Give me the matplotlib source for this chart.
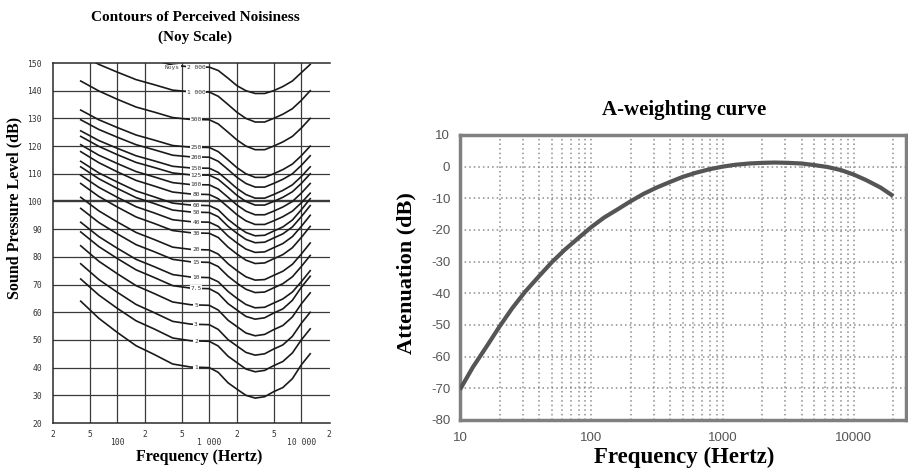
import matplotlib
matplotlib.use("Agg")
import matplotlib.pyplot as plt

# ---- left panel: noy contours ----
noy_freq = [40, 63, 100, 160, 250, 400, 630, 1000, 1250, 1600, 2000, 2500, 3150, 4000, 5000, 6300,
            8000, 10000, 12500]

noy_labels = ["2 000", "1 000", "500", "250", "200", "150", "125", "100", "80", "60", "50",
              "40", "30", "20", "15", "10", "7.5", "5", "3", "2", "1"]
noy_levels = [148.5, 139.5, 129.5, 119.5, 116, 112, 109.5, 106, 102.5, 98.5, 96,
              92.5, 88.5, 82.5, 78, 72.5, 68.5, 62.5, 55.5, 49.5, 40]

noy_2000 = [161.5, 157.1, 155.4, 152.8, 151.1, 149.2, 148.6, 148.5, 147.3, 144.5, 141.8, 140, 139, 139, 140, 141.5, 143.5, 146.5, 149.5]
noy_1000 = [153, 149.5, 146.7, 144, 142.2, 140.2, 139.6, 139.5, 138, 135, 132.2, 130, 128.7, 128.7, 130, 131.5, 133.5, 136.5, 140]
noy_500 = [143.5, 139.9, 136.9, 134.1, 132.3, 130.3, 129.6, 129.5, 128, 125, 122.2, 120, 118.7, 118.7, 120, 121.5, 123.5, 126.5, 130]
noy_250 = [133, 129.5, 126.7, 124, 122.2, 120.2, 119.6, 119.5, 118, 115, 112.2, 110, 108.7, 108.7, 110, 111.5, 113.5, 116.5, 120]
noy_200 = [129.5, 126, 123.2, 120.5, 118.7, 116.7, 116.1, 116, 114.5, 111.5, 108.7, 106.5, 105.2, 105.2, 106.5, 108, 110, 113, 116.5]
noy_150 = [125.5, 122, 119.2, 116.5, 114.7, 112.7, 112.1, 112, 110.5, 107.5, 104.7, 102.5, 101.2, 101.2, 102.5, 104, 106, 109, 112.5]
noy_125 = [123.5, 119.9, 116.9, 114.1, 112.3, 110.3, 109.6, 109.5, 108, 105, 102.2, 100, 98.7, 98.7, 100, 101.5, 103.5, 106.5, 110]
noy_100 = [120.5, 116.7, 113.7, 110.8, 108.9, 106.8, 106.1, 106, 104.5, 101.5, 98.7, 96.5, 95.2, 95.2, 96.5, 98, 100, 103, 106.5]
noy_80 = [118, 114, 110.7, 107.6, 105.6, 103.4, 102.7, 102.5, 101, 98, 95.2, 93, 91.7, 91.7, 93, 94.5, 96.5, 99.5, 103]
noy_60 = [114.5, 110.3, 107, 103.8, 101.7, 99.4, 98.7, 98.5, 97, 93.5, 91, 88.8, 87.6, 87.8, 89.3, 90.8, 93.3, 97, 101]
noy_50 = [112.5, 108.2, 104.7, 101.4, 99.3, 96.9, 96.2, 96, 94.5, 91, 88.5, 86.3, 85.1, 85.3, 86.8, 88.3, 90.8, 94.5, 98.5]
noy_40 = [109.5, 105.1, 101.5, 98.1, 95.9, 93.4, 92.7, 92.5, 91, 87.5, 85, 82.8, 81.6, 81.8, 83.3, 84.8, 87.3, 91, 95]
noy_30 = [106.5, 101.8, 98, 94.4, 92.1, 89.5, 88.7, 88.5, 87, 83.5, 81, 78.8, 77.6, 77.8, 79.3, 80.8, 83.3, 87, 91]
noy_20 = [101.5, 96.6, 92.6, 88.8, 86.3, 83.5, 82.7, 82.5, 81, 77.5, 75, 72.8, 71.6, 71.8, 73.3, 74.8, 77.3, 81, 85]
noy_15 = [97.5, 92.4, 88.3, 84.4, 81.9, 79.1, 78.2, 78, 76.5, 73, 70.5, 68.3, 67.1, 67.3, 68.8, 70.3, 72.8, 76.5, 80.5]
noy_10 = [92.5, 87.3, 83.1, 79.1, 76.5, 73.6, 72.7, 72.5, 71, 67.5, 65, 62.8, 61.6, 61.8, 63.3, 64.8, 67.3, 71, 75]
noy_7_5 = [89, 83.7, 79.4, 75.3, 72.6, 69.6, 68.7, 68.5, 66.8, 63.1, 60.8, 58.5, 57.5, 58, 59.7, 61.2, 64.3, 69, 73]
noy_5 = [84, 78.4, 73.9, 69.6, 66.8, 63.7, 62.7, 62.5, 60.8, 57.1, 54.8, 52.5, 51.5, 52, 53.7, 55.2, 58.3, 63, 67]
noy_3 = [77.5, 71.8, 67.2, 62.8, 59.9, 56.7, 55.7, 55.5, 53.8, 50.1, 47.8, 45.5, 44.5, 45, 46.7, 48.2, 51.3, 56, 60]
noy_2 = [72, 66.2, 61.4, 56.9, 54, 50.7, 49.7, 49.5, 47.8, 44.1, 41.8, 39.5, 38.5, 39, 40.7, 42.2, 45.3, 50, 54]
noy_1 = [64, 57.8, 52.7, 47.9, 44.8, 41.3, 40.2, 40, 38.3, 34.5, 32.2, 30, 29, 29.5, 31.3, 32.8, 36, 41, 45]

noy_curves = [noy_2000, noy_1000, noy_500, noy_250, noy_200, noy_150, noy_125, noy_100, noy_80,
              noy_60, noy_50, noy_40, noy_30, noy_20, noy_15, noy_10, noy_7_5, noy_5, noy_3, noy_2, noy_1]

# ---- right panel: A-weighting ----
a_freq = [10, 12.5, 16, 20, 25, 31.5, 40, 50, 63, 80, 100, 125, 160, 200, 250, 315, 400, 500, 630,
          800, 1000, 1250, 1600, 2000, 2500, 3150, 4000, 5000, 6300, 8000, 10000, 12500, 16000, 20000]
a_gain = [-70.4, -63.4, -56.7, -50.5, -44.7, -39.4, -34.6, -30.2, -26.2, -22.5, -19.1, -16.1, -13.4,
          -10.9, -8.6, -6.6, -4.8, -3.2, -1.9, -0.8, 0.0, 0.6, 1.0, 1.2, 1.3, 1.2, 1.0, 0.5, -0.1,
          -1.1, -2.5, -4.3, -6.6, -9.3]

serif = "Liberation Serif"
mono = "DejaVu Sans Mono"
fig = plt.figure(figsize=(9.08, 4.72), dpi=100)

# left chart
ax1 = fig.add_axes([0.0584, 0.1038, 0.305, 0.7627])
ax1.set_xscale("log")
ax1.set_xlim(20, 20500)
ax1.set_ylim(20, 150)
for f in [50, 100, 200, 500, 1000, 2000, 5000, 10000]:
    ax1.axvline(f, color="#3a3a3a", lw=0.9, zorder=1)
for db in range(30, 150, 10):
    ax1.axhline(db, color="#3a3a3a", lw=1.7 if db == 100 else 0.9, zorder=1)
for vals in noy_curves:
    ax1.plot(noy_freq, vals, color="#1a1a1a", lw=1.2, zorder=2)
for lab, lev in zip(noy_labels, noy_levels):
    ax1.text(716, lev, lab, fontsize=4.5, family=mono, ha="center", va="center",
             color="#333333", zorder=3,
             bbox=dict(facecolor="white", edgecolor="none", pad=0.6))
ax1.text(395, 148.2, "Noys", fontsize=4.5, family=mono, ha="center", va="center",
         color="#444444", zorder=3, bbox=dict(facecolor="white", edgecolor="none", pad=0.6))
ax1.spines["right"].set_visible(False)
for s in ["left", "top", "bottom"]:
    ax1.spines[s].set_linewidth(1.1)
    ax1.spines[s].set_color("#2a2a2a")
ax1.set_yticks(list(range(20, 151, 10)))
ax1.set_yticklabels([str(v) for v in range(20, 151, 10)], family=mono, fontsize=5.8, color="#333333")
ax1.set_xticks([100, 1000, 10000])
ax1.set_xticklabels(["100", "1 000", "10 000"], family=mono, fontsize=5.8, color="#333333")
ax1.set_xticks([20, 50, 200, 500, 2000, 5000, 20000], minor=True)
ax1.set_xticklabels(["2", "5", "2", "5", "2", "5", "2"], minor=True, family=mono,
                    fontsize=5.8, color="#333333")
ax1.tick_params(axis="both", which="both", length=0)
ax1.tick_params(axis="y", pad=8)
ax1.tick_params(axis="x", which="minor", pad=5)
ax1.tick_params(axis="x", which="major", pad=11)

fig.text(0.215, 0.962, "Contours of Perceived Noisiness", family=serif, weight="bold",
         fontsize=11, ha="center", va="center")
fig.text(0.215, 0.921, "(Noy Scale)", family=serif, weight="bold", fontsize=11, ha="center", va="center")
fig.text(0.0154, 0.559, "Sound Pressure Level (dB)", family=serif, weight="bold", fontsize=11.5,
         rotation=90, ha="center", va="center")
fig.text(0.219, 0.032, "Frequency (Hertz)", family=serif, weight="bold", fontsize=11.5,
         ha="center", va="center")

# right chart
ax2 = fig.add_axes([0.5066, 0.1102, 0.4912, 0.6038])
ax2.set_xscale("log")
ax2.set_xlim(10, 25000)
ax2.set_ylim(-80, 10)
ax2.plot(a_freq, a_gain, color="#555555", lw=3, solid_capstyle="butt", zorder=3)
ax2.set_yticks(list(range(-80, 11, 10)))
ax2.set_yticklabels([str(v) for v in range(-80, 11, 10)])
ax2.set_xticks([10, 100, 1000, 10000])
ax2.set_xticklabels(["10", "100", "1000", "10000"])
ax2.set_xticks([k * m for m in [10, 100, 1000] for k in range(2, 10)] + [20000], minor=True)
ax2.set_xticklabels([], minor=True)
ax2.grid(True, which="both", ls=(0, (1, 2)), color="#8c8c8c", lw=1.1, zorder=0)
for lab in ax2.get_xticklabels() + ax2.get_yticklabels():
    lab.set_family("Liberation Sans")
    lab.set_fontsize(9.5)
    lab.set_color("#555555")
ax2.tick_params(axis="both", which="both", length=0)
ax2.tick_params(axis="y", pad=7)
ax2.tick_params(axis="x", pad=9)
for s in ax2.spines.values():
    s.set_linewidth(2.5)
    s.set_color("#808080")

fig.text(0.753, 0.767, "A-weighting curve", family=serif, weight="bold", fontsize=15,
         ha="center", va="center")
fig.text(0.448, 0.421, "Attenuation (dB)", family=serif, weight="bold", fontsize=16,
         rotation=90, ha="center", va="center")
fig.text(0.753, 0.030, "Frequency (Hertz)", family=serif, weight="bold", fontsize=16.5,
         ha="center", va="center")

fig.savefig("out.png", dpi=100)
